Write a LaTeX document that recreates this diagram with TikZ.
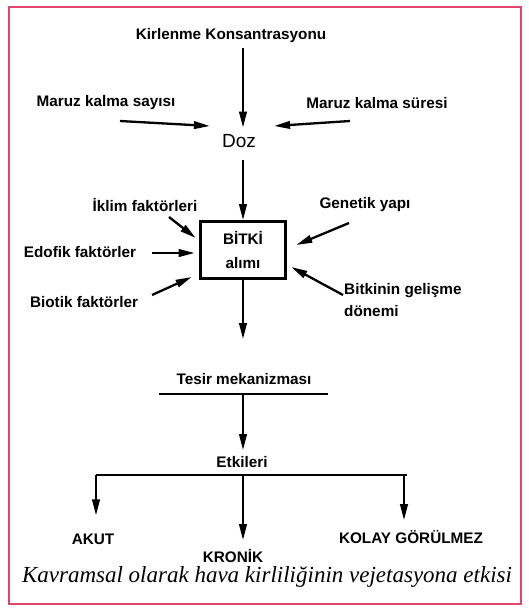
\documentclass[tikz,border=0pt]{standalone}
\usepackage{fontspec}
\setmainfont{Liberation Sans}
\newfontfamily\captionserif{Liberation Serif}
\usetikzlibrary{positioning,calc,arrows.meta}

\definecolor{framepink}{RGB}{222,70,110}

\begin{document}
\begin{tikzpicture}[
    x=1pt, y=-1pt,
    lbl/.style={font=\fontsize{15.3}{18}\selectfont\bfseries, inner sep=0pt},
    arr/.style={-{Triangle[length=16pt,width=7.5pt]}, line width=2.3pt},
    bar/.style={line width=2.3pt}
]
    \useasboundingbox (0,0) rectangle (528,613);
    \fill[white] (0,0) rectangle (528,613);
    \draw[framepink, line width=2pt] (9,7) rectangle (521,604);

    % --- Doz ---
    \node[lbl] (kirlenme) at (231,36) {Kirlenme Konsantrasyonu};
    \node[lbl] (sayisi) at (106,103) {Maruz kalma sayısı};
    \node[lbl] (suresi) at (377,103) {Maruz kalma süresi};
    \node[font=\fontsize{19}{21}\selectfont, inner sep=0pt] (doz) at (239,141.5) {Doz};

    % --- Bitki alimi ---
    \node[draw, line width=2.6pt, minimum width=85pt, minimum height=57pt, align=center,
          font=\fontsize{15.3}{24}\selectfont\bfseries] (bitki) at (243,250) {BİTKİ\\alımı};
    \node[lbl] (iklim) at (145,205) {İklim faktörleri};
    \node[lbl] (genetik) at (365,205) {Genetik yapı};
    \node[lbl] (edofik) at (80,252) {Edofik faktörler};
    \node[lbl] (biotik) at (84,302) {Biotik faktörler};
    \node[lbl, align=left, anchor=west, font=\fontsize{15.3}{22}\selectfont\bfseries] (gelisme) at (344,300) {Bitkinin gelişme\\dönemi};

    % --- Tesir / Etkileri ---
    \node[lbl] (tesir) at (244,379) {Tesir mekanizması};
    \node[lbl] (etkileri) at (242,462) {Etkileri};
    \node[lbl] (akut) at (93,539) {AKUT};
    \node[lbl] (kronik) at (233,556) {KRONİK};
    \node[lbl] (kolay) at (411,537) {KOLAY GÖRÜLMEZ};

    \node[font=\fontsize{23}{26}\captionserif\itshape, inner sep=0pt] (caption) at (267,577)
        {Kavramsal olarak hava kirliliğinin vejetasyona etkisi};

    % free ends
    \coordinate (sayisiA) at (120,121);
    \coordinate (suresiA) at (350,121);
    \coordinate (iklimA) at (169,217);
    \coordinate (edofikA) at (152,253);
    \coordinate (biotikA) at (152,295);
    \coordinate (genetikA) at (349,223);
    \coordinate (gelismeA) at (343,295);
    \coordinate (tesirL) at (159,394);
    \coordinate (tesirR) at (328,394);
    \coordinate (etkL) at (96,475);
    \coordinate (etkR) at (407,475);

    % arrows into Doz
    \draw[arr, shorten <=5pt, shorten >=7pt] (kirlenme.south -| bitki) -- (doz.north -| bitki);
    \draw[arr] (sayisiA) -- ($(doz.west)+(-12,-15.5)$);
    \draw[arr] (suresiA) -- ($(doz.east)+(18,-15.5)$);
    \draw[arr, shorten <=12pt] (doz.south -| bitki) -- (bitki.north);

    % arrows into the box
    \draw[arr] (iklimA) -- ($(bitki.west)+(-3.5,-12)$);
    \draw[arr] (edofikA) -- ($(bitki.west)+(-4.5,3)$);
    \draw[arr] (biotikA) -- ($(bitki.west)+(-7.5,27)$);
    \draw[arr] (genetikA) -- ($(bitki.east)+(9.5,-5)$);
    \draw[arr] (gelismeA) -- ($(bitki.east)+(4.5,17)$);

    % effects
    \draw[arr, shorten >=34pt] (bitki.south) -- (tesir.north -| bitki);
    \draw[bar] (tesirL) -- (tesirR);
    \draw[arr, shorten >=6pt] (tesirL -| bitki) -- (etkileri.north -| bitki);
    \draw[bar] (etkL) -- (etkR);
    \draw[arr, shorten >=18pt] (etkL) -- (etkL |- akut.north);
    \draw[arr, shorten >=9pt] (etkL -| bitki) -- (kronik.north -| bitki);
    \draw[arr, shorten >=10pt] ($(etkR)+(-3,0)$) -- ($(etkR |- kolay.north)+(-3,0)$);
\end{tikzpicture}
\end{document}
